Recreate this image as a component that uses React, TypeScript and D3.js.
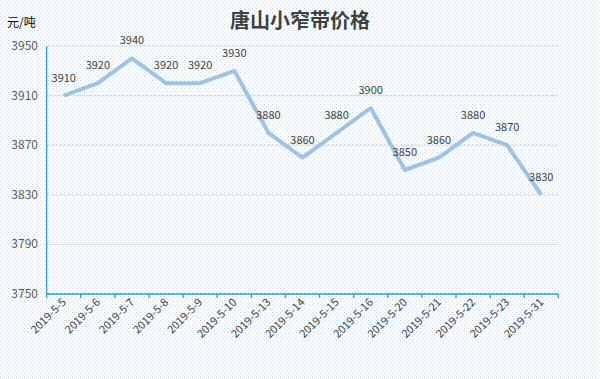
import React from "react";
import * as d3 from "d3";

const categories = ["2019-5-5","2019-5-6","2019-5-7","2019-5-8","2019-5-9","2019-5-10","2019-5-13","2019-5-14","2019-5-15","2019-5-16","2019-5-20","2019-5-21","2019-5-22","2019-5-23","2019-5-31"];
const prices = [3910,3920,3940,3920,3920,3930,3880,3860,3880,3900,3850,3860,3880,3870,3830];
const yTicks = [3750,3790,3830,3870,3910,3950];
const title = "唐山小窄带价格";
const unit = "元/吨";

const W = 600, H = 379;
const left = 46.7, right = 558.3, top = 46, bottom = 294;
const FONT = "'Noto Sans CJK SC', 'Noto Sans', sans-serif";

export default function App() {
  const x = d3.scaleBand<string>().domain(categories).range([left, right]).padding(0);
  const y = d3.scaleLinear().domain([3750, 3950]).range([bottom, top]);
  const cx = (c: string) => (x(c) as number) + x.bandwidth() / 2;
  const line = d3.line<number>().x((_, i) => cx(categories[i])).y((d) => y(d));
  const edges = categories.map((c) => x(c) as number).concat([right]);

  return (
    <svg width={W} height={H} style={{ position: "absolute", left: 0, top: 0, display: "block" }} fontFamily={FONT}>
      <defs>
        <pattern id="dots" width="4" height="4" patternUnits="userSpaceOnUse">
          <rect width="4" height="4" fill="#ffffff" />
          <rect x="0" y="0" width="1" height="1" fill="#c9d8e6" />
          <rect x="2" y="2" width="1" height="1" fill="#c9d8e6" />
        </pattern>
      </defs>
      <rect width={W} height={H} fill="url(#dots)" />
      <text x={300} y={28} textAnchor="middle" fontSize={20} fontWeight="bold" fill="#404040">{title}</text>
      <text x={7} y={27} fontSize={12} fill="#000">{unit}</text>
      {yTicks.filter((t) => t !== 3750).map((t) => (
        <line key={t} x1={left} x2={right} y1={y(t)} y2={y(t)} stroke="#dcdcdc" strokeWidth={1} />
      ))}
      {yTicks.map((t) => (
        <text key={"l" + t} x={38} y={y(t) + 4} textAnchor="end" fontSize={12} fill="#595959">{t}</text>
      ))}
      <line x1={left} x2={left} y1={top} y2={bottom} stroke="#2a9cc6" strokeWidth={1.3} />
      <line x1={left} x2={right} y1={bottom} y2={bottom} stroke="#2a9cc6" strokeWidth={1.3} />
      {edges.map((e, i) => (
        <line key={"t" + i} x1={e} x2={e} y1={bottom} y2={bottom + 4} stroke="#2a9cc6" strokeWidth={1.3} />
      ))}
      {categories.map((c) => (
        <text key={c} transform={`translate(${cx(c) + 3},${bottom + 9}) rotate(-45)`} textAnchor="end" fontSize={11} fill="#404040">{c}</text>
      ))}
      <path d={line(prices) || ""} fill="none" stroke="#9dc3e6" strokeWidth={4} strokeLinejoin="round" />
      {prices.map((p, i) => (
        <text key={"d" + i} x={cx(categories[i])} y={y(p) - 14} textAnchor="middle" fontSize={11} fill="#404040">{p}</text>
      ))}
    </svg>
  );
}
